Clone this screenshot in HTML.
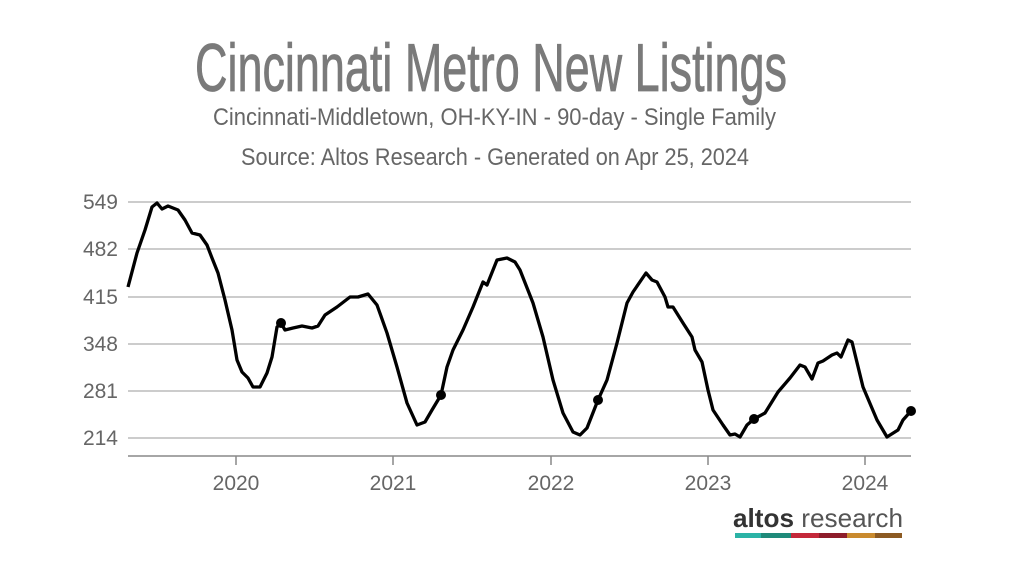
<!DOCTYPE html>
<html><head><meta charset="utf-8"><style>
html,body{margin:0;padding:0;background:#fff;}
svg{display:block;font-family:"Liberation Sans",sans-serif;}
</style></head><body>
<svg width="1022" height="576" viewBox="0 0 1022 576">
<text x="195" y="91" font-size="68" fill="#7a7a7a" stroke="#7a7a7a" stroke-width="0.8" textLength="592" lengthAdjust="spacingAndGlyphs">Cincinnati Metro New Listings</text>
<text x="213" y="125" font-size="24" fill="#666" textLength="563" lengthAdjust="spacingAndGlyphs">Cincinnati-Middletown, OH-KY-IN - 90-day - Single Family</text>
<text x="241" y="165" font-size="24" fill="#666" textLength="508" lengthAdjust="spacingAndGlyphs">Source: Altos Research - Generated on Apr 25, 2024</text>
<g stroke="#bbb" stroke-width="1.5">
<line x1="128" x2="911" y1="202" y2="202"/><line x1="128" x2="911" y1="249" y2="249"/>
<line x1="128" x2="911" y1="297" y2="297"/><line x1="128" x2="911" y1="344" y2="344"/>
<line x1="128" x2="911" y1="391" y2="391"/><line x1="128" x2="911" y1="438" y2="438"/>
</g>
<g stroke="#888" stroke-width="1.5">
<line x1="128" x2="911" y1="456" y2="456"/>
<line x1="236" x2="236" y1="456" y2="465"/><line x1="393" x2="393" y1="456" y2="465"/>
<line x1="551" x2="551" y1="456" y2="465"/><line x1="708" x2="708" y1="456" y2="465"/>
<line x1="865" x2="865" y1="456" y2="465"/>
</g>
<g font-size="21" fill="#666" text-anchor="end">
<text x="118" y="209">549</text><text x="118" y="256">482</text><text x="118" y="304">415</text>
<text x="118" y="351">348</text><text x="118" y="398">281</text><text x="118" y="445">214</text>
</g>
<g font-size="21" fill="#666" text-anchor="middle">
<text x="236" y="490">2020</text><text x="393" y="490">2021</text><text x="551" y="490">2022</text>
<text x="708" y="490">2023</text><text x="865" y="490">2024</text>
</g>
<polyline fill="none" stroke="#000" stroke-width="3.3" stroke-linejoin="round" points="128,287 137,253 145,230 152,207 157,203 162,209 168,206 178,210 185,220 192,233 200,235 207,245 212,258 218,273 225,300 232,330 237,360 242,372 248,378 253,387 260,387 267,373 272,357 277,327 281,323 285,330 293,328 302,326 312,328 318,326 325,315 337,307 350,297 358,297 368,294 377,305 387,333 397,367 407,403 417,425 425,422 432,410 441,395 447,367 453,350 463,330 473,307 483,282 487,285 497,260 507,258 515,262 520,270 533,303 543,337 553,380 563,413 573,432 580,435 587,428 598,400 607,380 617,343 627,303 633,292 646,273 652,280 657,282 665,297 668,307 673,307 683,323 692,337 695,350 702,362 708,390 713,410 723,425 730,435 735,434 740,437 747,425 754,419 765,413 778,392 790,378 800,365 805,367 812,379 818,363 823,361 832,355 837,353 841,357 848,340 852,342 863,387 877,420 887,437 898,430 903,420 911,411"/>
<g fill="#000">
<circle cx="281" cy="323" r="5"/><circle cx="441" cy="395" r="5"/><circle cx="598" cy="400" r="5"/>
<circle cx="754" cy="419" r="5"/><circle cx="911" cy="411" r="5"/>
</g>
<text x="733" y="527" font-size="26" fill="#333" textLength="170" lengthAdjust="spacingAndGlyphs"><tspan font-weight="bold">altos</tspan> <tspan fill="#555">research</tspan></text>
<rect x="735" y="533" width="26" height="5" fill="#2bb3a6"/>
<rect x="761" y="533" width="30" height="5" fill="#1f8a7a"/>
<rect x="791" y="533" width="28" height="5" fill="#c4283a"/>
<rect x="819" y="533" width="28" height="5" fill="#8e1d2b"/>
<rect x="847" y="533" width="28" height="5" fill="#c98a2e"/>
<rect x="875" y="533" width="27" height="5" fill="#8c5a22"/>
</svg>
</body></html>
